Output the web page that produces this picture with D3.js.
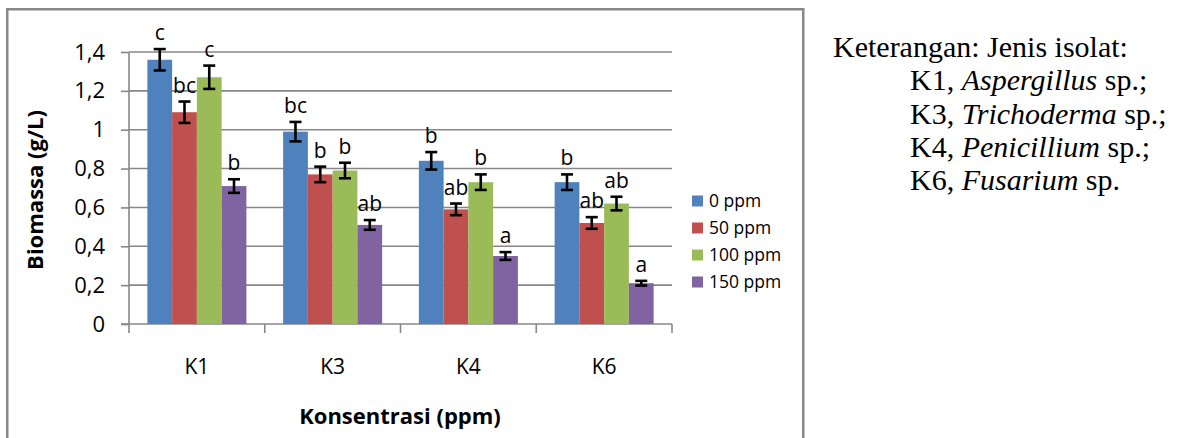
<!DOCTYPE html>
<html><head><meta charset="utf-8">
<script src="https://cdn.jsdelivr.net/npm/d3@7"></script>
<style>body{margin:0;background:#fff}svg{display:block}</style>
</head><body><svg id="c" width="1192" height="438"></svg>
<script>
const categories = ["K1", "K3", "K4", "K6"];
const seriesNames = ["0 ppm", "50 ppm", "100 ppm", "150 ppm"];
const values0 = [1.36, 0.99, 0.84, 0.73];
const values50 = [1.09, 0.77, 0.59, 0.52];
const values100 = [1.27, 0.79, 0.73, 0.62];
const values150 = [0.71, 0.51, 0.35, 0.21];
const err0 = [0.055, 0.05, 0.045, 0.04];
const err50 = [0.055, 0.04, 0.03, 0.03];
const err100 = [0.06, 0.04, 0.04, 0.035];
const err150 = [0.035, 0.025, 0.02, 0.012];
const letters0 = ["c", "bc", "b", "b"];
const letters50 = ["bc", "b", "ab", "ab"];
const letters100 = ["c", "b", "b", "ab"];
const letters150 = ["b", "ab", "a", "a"];
const yTicks = [0, 0.2, 0.4, 0.6, 0.8, 1, 1.2, 1.4];
const yTickLabels = ["0", "0,2", "0,4", "0,6", "0,8", "1", "1,2", "1,4"];
const colors = ["#4F81BD", "#C0504D", "#9BBB59", "#8064A2"];
const noteTitle = "Keterangan: Jenis isolat:";
const noteCodes = ["K1", "K3", "K4", "K6"];
const noteGenus = ["Aspergillus", "Trichoderma", "Penicillium", "Fusarium"];
const noteEnds = [" sp.;", " sp.;", " sp.;", " sp."];

const seriesVals = [values0, values50, values100, values150];
const seriesErr = [err0, err50, err100, err150];
const seriesLet = [letters0, letters50, letters100, letters150];

const svg = d3.select("#c");
const SANS = "'Open Sans', sans-serif";
const L = 129, R = 672, T = 52, B = 324;

svg.append("rect").attr("width", 1192).attr("height", 438).attr("fill", "#fff");
// outer chart frame
svg.append("rect").attr("x", 7.25).attr("y", 9.25).attr("width", 796).attr("height", 460)
  .attr("fill", "none").attr("stroke", "#898989").attr("stroke-width", 2.5);

const x = d3.scaleBand().domain(categories).range([L, R]).paddingInner(0).paddingOuter(0);
const xs = d3.scaleBand().domain(seriesNames).range([0, x.bandwidth()]).paddingInner(0).paddingOuter(0.742);
const y = d3.scaleLinear().domain([0, 1.4]).range([B, T]);

// gridlines
svg.append("g").selectAll("line").data(yTicks.filter(d => d > 0)).join("line")
  .attr("x1", L).attr("x2", R).attr("y1", d => y(d)).attr("y2", d => y(d))
  .attr("stroke", "#878787").attr("stroke-width", 1.6);

// y axis
const yAxis = d3.axisLeft(y).tickValues(yTicks).tickSize(8).tickPadding(16)
  .tickFormat((d, i) => yTickLabels[i]);
const gy = svg.append("g").attr("transform", `translate(${L},0)`).call(yAxis);
gy.select(".domain").remove();
gy.selectAll(".tick line").attr("stroke", "#878787").attr("stroke-width", 1.6);
gy.selectAll(".tick text").attr("font-family", SANS).attr("font-size", 22).attr("fill", "#000");
svg.append("line").attr("x1", L).attr("x2", L).attr("y1", T).attr("y2", B + 9)
  .attr("stroke", "#878787").attr("stroke-width", 1.6);

// x axis
const xAxis = d3.axisBottom(x).tickSize(0).tickPadding(35);
const gx = svg.append("g").attr("transform", `translate(0,${B})`).call(xAxis);
gx.select(".domain").remove();
gx.selectAll(".tick text").attr("font-family", SANS).attr("font-size", 21).attr("fill", "#000");
svg.append("line").attr("x1", L - 8).attr("x2", R).attr("y1", B).attr("y2", B)
  .attr("stroke", "#878787").attr("stroke-width", 1.6);
const bounds = categories.map(c => x(c)).concat([R]);
svg.append("g").selectAll("line").data(bounds.slice(1)).join("line")
  .attr("x1", d => d).attr("x2", d => d).attr("y1", B).attr("y2", B + 9)
  .attr("stroke", "#878787").attr("stroke-width", 1.6);

// bars
seriesNames.forEach((s, si) => {
  const g = svg.append("g");
  const rows = categories.map((c, ci) => ({c, v: seriesVals[si][ci], e: seriesErr[si][ci], l: seriesLet[si][ci]}));
  g.selectAll("rect").data(rows).join("rect")
    .attr("x", d => x(d.c) + xs(s)).attr("width", xs.bandwidth())
    .attr("y", d => y(d.v)).attr("height", d => y(0) - y(d.v))
    .attr("fill", colors[si]);
  const cx = d => x(d.c) + xs(s) + xs.bandwidth() / 2;
  const eb = g.append("g").attr("stroke", "#000").attr("stroke-width", 2.6);
  eb.selectAll(".v").data(rows).join("line")
    .attr("x1", cx).attr("x2", cx).attr("y1", d => y(d.v + d.e)).attr("y2", d => y(d.v - d.e));
  eb.selectAll(".t").data(rows).join("line")
    .attr("x1", d => cx(d) - 6).attr("x2", d => cx(d) + 6).attr("y1", d => y(d.v + d.e)).attr("y2", d => y(d.v + d.e));
  eb.selectAll(".b").data(rows).join("line")
    .attr("x1", d => cx(d) - 6).attr("x2", d => cx(d) + 6).attr("y1", d => y(d.v - d.e)).attr("y2", d => y(d.v - d.e));
  g.selectAll("text").data(rows).join("text")
    .attr("x", cx).attr("y", d => y(d.v + d.e) - 9)
    .attr("text-anchor", "middle").attr("font-family", SANS).attr("font-size", 21).attr("fill", "#000")
    .text(d => d.l);
});

// legend
const lg = svg.append("g");
seriesNames.forEach((s, i) => {
  const cy = 201 + i * 27;
  lg.append("rect").attr("x", 692).attr("y", cy - 5.5).attr("width", 11).attr("height", 11).attr("fill", colors[i]);
  lg.append("text").attr("x", 709).attr("y", cy).attr("dy", "0.35em")
    .attr("font-family", SANS).attr("font-size", 17.5).attr("fill", "#000").text(s);
});

// axis titles
svg.append("text").attr("x", 400).attr("y", 424).attr("text-anchor", "middle")
  .attr("font-family", SANS).attr("font-weight", "bold").attr("font-size", 22).attr("fill", "#000")
  .text("Konsentrasi (ppm)");
svg.append("text").attr("transform", "translate(43,190) rotate(-90)").attr("text-anchor", "middle")
  .attr("font-family", SANS).attr("font-weight", "bold").attr("font-size", 22).attr("fill", "#000")
  .text("Biomassa (g/L)");

// note text
const SERIF = "'Liberation Serif', 'Times New Roman', serif";
svg.append("text").attr("x", 833).attr("y", 57).attr("font-family", SERIF).attr("font-size", 30)
  .attr("fill", "#000").text(noteTitle);
noteCodes.forEach((c, i) => {
  const t = svg.append("text").attr("x", 910).attr("y", 57 + (i + 1) * 33.3)
    .attr("font-family", SERIF).attr("font-size", 30).attr("fill", "#000");
  t.append("tspan").text(c + ", ");
  t.append("tspan").attr("font-style", "italic").text(noteGenus[i]);
  t.append("tspan").text(noteEnds[i]);
});
</script></body></html>
